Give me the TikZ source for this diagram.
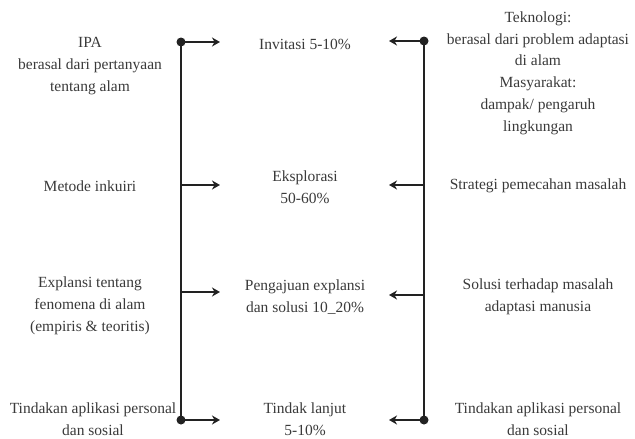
\documentclass[tikz,border=0pt]{standalone}
\usepackage{fontspec}
\setmainfont{Liberation Serif}
\usetikzlibrary{arrows.meta}
\definecolor{txt}{HTML}{3A3A3A}
\definecolor{ln}{HTML}{222222}
\begin{document}
\begin{tikzpicture}[x=1pt,y=-1pt,
  lbl/.style={inner sep=0pt,align=center,text=txt,font=\fontsize{15.5}{21.8}\selectfont},
  spine/.style={draw=ln,line width=2.2pt},
  arr/.style={draw=ln,line width=2.2pt,-{Stealth[length=8pt,width=9pt,inset=2.5pt]}},
  dotc/.style={fill=ln}]
\useasboundingbox (0,0) rectangle (635,439);
% left column
\node[lbl] (l1) at (90,66) {IPA\\berasal dari pertanyaan\\tentang alam};
\node[lbl] (l2) at (90,186) {Metode inkuiri};
\node[lbl] (l3) at (90,306) {Explansi tentang\\fenomena di alam\\(empiris \& teoritis)};
\node[lbl] (l4) at (93,419) {Tindakan aplikasi personal\\dan sosial};
% middle column
\node[lbl] (m1) at (305,44) {Invitasi 5-10\%};
\node[lbl] (m2) at (305,187) {Eksplorasi\\50-60\%};
\node[lbl] (m3) at (305,297) {Pengajuan explansi\\dan solusi 10\_20\%};
\node[lbl] (m4) at (305,419) {Tindak lanjut\\5-10\%};
% right column
\node[lbl] (r1) at (538,73) {Teknologi:\\berasal dari problem adaptasi\\di alam\\Masyarakat:\\dampak/ pengaruh\\lingkungan};
\node[lbl] (r2) at (538,186) {Strategi pemecahan masalah};
\node[lbl] (r3) at (538,297) {Solusi terhadap masalah\\adaptasi manusia};
\node[lbl] (r4) at (538,419) {Tindakan aplikasi personal\\dan sosial};
% spine coordinates
\coordinate (lt) at (181,42);
\coordinate (la) at (181,185);
\coordinate (lc) at (181,292);
\coordinate (lb) at (181,420);
\coordinate (rt) at (424,41);
\coordinate (ra) at (424,185);
\coordinate (rc) at (424,295);
\coordinate (rb) at (424,420);
\coordinate (lte) at (220,42);
\coordinate (lae) at (220,185);
\coordinate (lce) at (220,292);
\coordinate (lbe) at (220,420);
\coordinate (rte) at (389,41);
\coordinate (rae) at (389,185);
\coordinate (rce) at (389,295);
\coordinate (rbe) at (389,420);
\draw[spine] (lt) -- (lb);
\draw[spine] (rt) -- (rb);
\draw[arr] (lt) -- (lte);
\draw[arr] (la) -- (lae);
\draw[arr] (lc) -- (lce);
\draw[arr] (lb) -- (lbe);
\draw[arr] (rt) -- (rte);
\draw[arr] (ra) -- (rae);
\draw[arr] (rc) -- (rce);
\draw[arr] (rb) -- (rbe);
\fill[dotc] (lt) circle (4.5);
\fill[dotc] (lb) circle (4.5);
\fill[dotc] (rt) circle (4.5);
\fill[dotc] (rb) circle (4.5);
\end{tikzpicture}
\end{document}
